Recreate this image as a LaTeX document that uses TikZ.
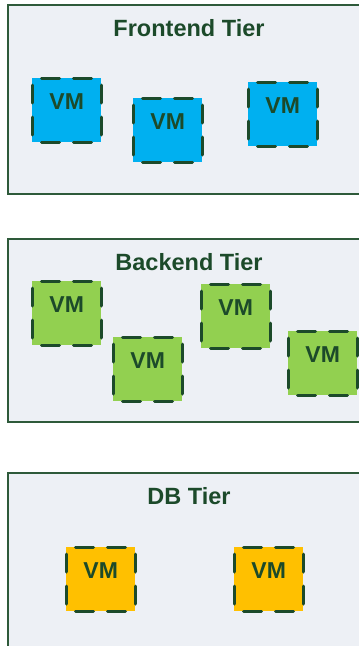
\documentclass[tikz,border=0pt]{standalone}
\usepackage{fontspec}
\setmainfont{Liberation Sans}
\definecolor{tierfill}{HTML}{EDF0F5}
\definecolor{tierdraw}{HTML}{2E5A3A}
\definecolor{ink}{HTML}{1C4A2A}
\definecolor{vmblue}{HTML}{00B0F0}
\definecolor{vmgreen}{HTML}{92D050}
\definecolor{vmorange}{HTML}{FFC000}
\tikzset{
  tier/.style={fill=tierfill, draw=tierdraw, line width=1.2pt},
  tiertitle/.style={anchor=base, text=ink, font=\fontsize{23.5}{26}\selectfont\bfseries, inner sep=0pt},
  vmbox/.style={anchor=north west, inner sep=0pt, minimum width=69pt, text width=69pt, align=center,
    text height=31pt, text depth=33pt, text=ink, font=\fontsize{23}{25}\selectfont\bfseries},
  vmedgeh/.style={draw=ink, line width=3pt, line cap=round, dash pattern=on 18pt off 14pt, dash phase=22.5pt},
  vmedgev/.style={draw=ink, line width=3pt, line cap=round, dash pattern=on 18pt off 14pt, dash phase=25pt},
}
\newcommand\vmedges[1]{%
  \draw[vmedgeh] (#1.north west) -- (#1.north east);
  \draw[vmedgeh] (#1.south west) -- (#1.south east);
  \draw[vmedgev] (#1.north west) -- (#1.south west);
  \draw[vmedgev] (#1.north east) -- (#1.south east);
}
\begin{document}
\begin{tikzpicture}[x=1pt,y=-1pt]
\useasboundingbox (0,0) rectangle (359,646);
\clip (0,0) rectangle (359,646);
\fill[white] (0,0) rectangle (359,646);
% tiers
\draw[tier] (8,5) rectangle (370,194);
\node[tiertitle] (ft) at (189,36) {Frontend Tier};
\draw[tier] (8,239) rectangle (370,422);
\node[tiertitle] (bt) at (189,270) {Backend Tier};
\draw[tier] (8,473) rectangle (370,660);
\node[tiertitle] (dt) at (189,504) {DB Tier};
% frontend VMs
\node[vmbox, fill=vmblue] (f1) at (32,78) {VM};
\node[vmbox, fill=vmblue] (f2) at (133,98) {VM};
\node[vmbox, fill=vmblue] (f3) at (248,82) {VM};
% backend VMs
\node[vmbox, fill=vmgreen] (b1) at (32,281) {VM};
\node[vmbox, fill=vmgreen] (b2) at (113,337) {VM};
\node[vmbox, fill=vmgreen] (b3) at (201,284) {VM};
\node[vmbox, fill=vmgreen] (b4) at (288,331) {VM};
% db VMs
\node[vmbox, fill=vmorange] (d1) at (66,547) {VM};
\node[vmbox, fill=vmorange] (d2) at (234,547) {VM};
\vmedges{f1}\vmedges{f2}\vmedges{f3}
\vmedges{b1}\vmedges{b2}\vmedges{b3}\vmedges{b4}
\vmedges{d1}\vmedges{d2}
\end{tikzpicture}
\end{document}
